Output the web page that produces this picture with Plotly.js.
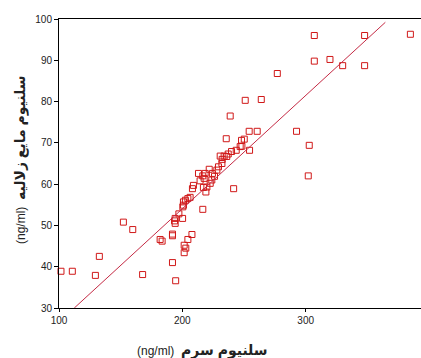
<!DOCTYPE html>
<html>
<head>
<meta charset="utf-8">
<script src="https://cdn.plot.ly/plotly-3.0.1.min.js"></script>
<style>html,body{margin:0;padding:0;background:#fff;overflow:hidden;}</style>
</head>
<body>
<div id="chart"></div>
<script>
// Serum selenium (x) vs aqueous humour selenium (y), ng/ml
const serumSe = [307.0, 347.8, 384.9, 307.0, 319.7, 330.0, 347.8, 277.0, 251.0, 264.0,
  238.8, 254.2, 260.7, 292.6, 235.6, 248.0, 250.2, 302.9, 246.9, 248.3,
  243.7, 254.5, 239.9, 237.2, 230.7, 233.9, 236.0, 232.3, 232.1, 229.3,
  228.0, 221.8, 218.5, 213.1, 224.4, 216.6, 226.1, 217.7, 214.4, 223.9,
  222.6, 219.9, 217.1, 209.0, 208.2, 219.1, 241.6, 206.3, 204.5, 202.5,
  200.9, 200.9, 200.4, 216.6, 197.2, 200.2, 194.2, 193.7, 194.2, 152.2,
  159.8, 192.0, 192.0, 207.8, 204.5, 182.0, 183.6, 201.5, 202.8, 201.5,
  192.0, 194.6, 132.7, 101.6, 110.8, 129.5, 167.8, 302.1];
const aqueousSe = [96.0, 96.0, 96.3, 89.8, 90.2, 88.7, 88.7, 86.8, 80.3, 80.5,
  76.5, 72.8, 72.8, 72.8, 71.0, 70.6, 70.9, 69.4, 69.1, 69.2,
  68.2, 68.2, 67.9, 67.3, 66.8, 66.8, 66.7, 66.0, 65.0, 64.2,
  63.4, 63.6, 62.6, 62.6, 62.6, 62.0, 61.9, 61.4, 60.8, 61.0,
  60.2, 59.3, 59.2, 59.7, 58.9, 58.1, 58.9, 56.8, 56.5, 56.1,
  55.7, 54.9, 54.5, 53.9, 52.8, 51.7, 51.7, 51.1, 50.5, 50.8,
  49.0, 47.9, 47.5, 47.8, 46.6, 46.6, 46.2, 45.2, 44.5, 43.4,
  41.0, 36.6, 42.5, 38.9, 38.9, 37.9, 38.1, 62.0];
// Fitted regression line endpoints
const fitX = [112.4, 364.6];
const fitY = [30.0, 99.2];

const xTicks = [100, 200, 300, 400];
const yTicks = [30, 40, 50, 60, 70, 80, 90, 100];

const unitText = '(ng/ml)';
const xTitleAr = 'سلنیوم سرم';
const yTitleAr = 'سلنیوم مایع زلالیه';

const fontFam = 'Liberation Sans, Arial, DejaVu Sans, sans-serif';
const arSpan = t => '<span style="font-size:14px"><b>' + t + '</b></span>';

const traces = [
  {
    x: serumSe, y: aqueousSe, type: 'scatter', mode: 'markers',
    marker: {symbol: 'square-open', size: 6, color: '#d01818', line: {width: 1, color: '#d01818'}},
    hoverinfo: 'none', cliponaxis: false
  },
  {
    x: fitX, y: fitY, type: 'scatter', mode: 'lines',
    line: {color: '#c42a44', width: 1}, hoverinfo: 'none'
  }
];

const layout = {
  width: 432, height: 358,
  margin: {l: 59, r: 3, t: 19, b: 50},
  paper_bgcolor: '#ffffff', plot_bgcolor: '#ffffff',
  showlegend: false,
  font: {family: fontFam, size: 10, color: '#222'},
  xaxis: {
    range: [100, 400], tickvals: xTicks, ticktext: xTicks.map(String),
    showgrid: false, zeroline: false, showline: true, linecolor: '#000', linewidth: 1,
    mirror: true, ticks: 'outside', ticklen: 3, tickcolor: '#000',
    tickfont: {family: fontFam, size: 10, color: '#222'}
  },
  yaxis: {
    range: [30, 100], tickvals: yTicks, ticktext: yTicks.map(String),
    showgrid: false, zeroline: false, showline: true, linecolor: '#000', linewidth: 1,
    mirror: true, ticks: 'outside', ticklen: 4, tickcolor: '#000',
    tickfont: {family: fontFam, size: 10, color: '#222'}
  },
  annotations: [
    {
      text: unitText + '  ' + arSpan(xTitleAr), xref: 'paper', yref: 'paper', x: 0, y: 0,
      xanchor: 'center', yanchor: 'middle', xshift: 202 - 59, yshift: -42, showarrow: false,
      font: {family: fontFam, size: 12, color: '#222'}
    },
    {
      text: unitText + '  ' + arSpan(yTitleAr), xref: 'paper', yref: 'paper', x: 0, y: 0.5,
      xanchor: 'center', yanchor: 'middle', xshift: -39, yshift: 3.5, textangle: -90, showarrow: false,
      font: {family: fontFam, size: 12, color: '#222'}
    }
  ]
};

Plotly.newPlot('chart', traces, layout, {staticPlot: true, displayModeBar: false});
</script>
</body>
</html>
